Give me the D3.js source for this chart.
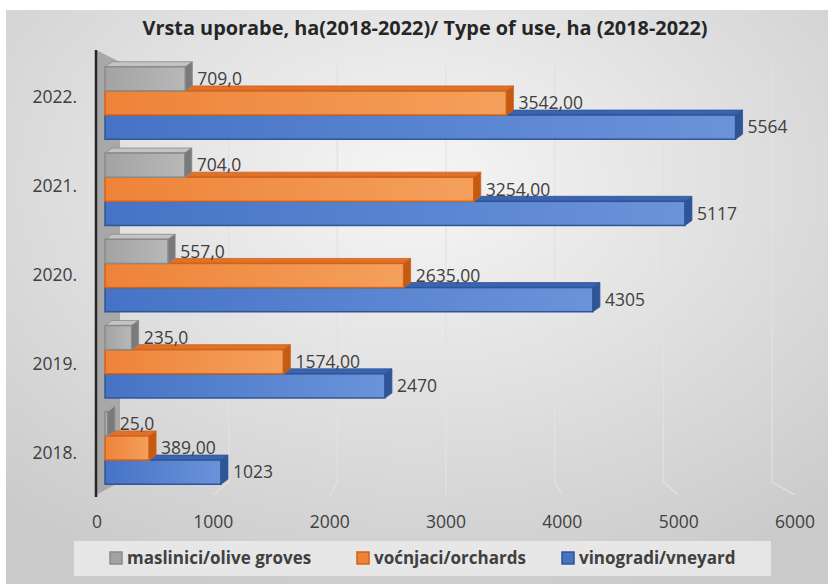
<!DOCTYPE html>
<head>
    <title>Vrsta uporabe</title>
    <meta charset="utf-8">
    <script src="https://d3js.org/d3.v7.min.js"></script>
    <style>
        body { margin: 0; background: white; }
        text { font-family: "Open Sans", "DejaVu Sans", sans-serif; fill: #404040; }
    </style>
</head>
<body>
    <div id="chart"></div>
    <script>
        // data
        var years = ["2022.", "2021.", "2020.", "2019.", "2018."];
        var oliveGroves = [709, 704, 557, 235, 25];
        var orchards = [3542, 3254, 2635, 1574, 389];
        var vineyards = [5564, 5117, 4305, 2470, 1023];
        var seriesNames = ["maslinici/olive groves", "voćnjaci/orchards", "vinogradi/vneyard"];
        var xTicks = [0, 1000, 2000, 3000, 4000, 5000, 6000];

        var svgWidth = 828, svgHeight = 584;

        var svg = d3.select('#chart').append('svg')
            .attr('width', svgWidth)
            .attr('height', svgHeight);

        var defs = svg.append('defs');

        var bg = defs.append('radialGradient').attr('id', 'bg')
            .attr('cx', '50%').attr('cy', '30%').attr('r', '75%');
        bg.append('stop').attr('offset', '0%').attr('stop-color', '#f6f6f6');
        bg.append('stop').attr('offset', '100%').attr('stop-color', '#cbcbcb');

        // colours per series: front gradient, stroke, top, side
        var styles = [
            {from: '#a3a3a3', to: '#b8b8b8', stroke: '#8a8a8a', top: '#c4c4c4', side: '#7a7a7a'},
            {from: '#ee8338', to: '#f4a05c', stroke: '#d0621a', top: '#e0712a', side: '#c55a11'},
            {from: '#4673c6', to: '#6a93d9', stroke: '#2f5597', top: '#3a63b0', side: '#2f5597'}
        ];
        styles.forEach(function(s, i) {
            var g = defs.append('linearGradient').attr('id', 'front' + i)
                .attr('x1', 0).attr('x2', 1).attr('y1', 0).attr('y2', 0);
            g.append('stop').attr('offset', '0%').attr('stop-color', s.from);
            g.append('stop').attr('offset', '100%').attr('stop-color', s.to);
        });

        // background
        svg.append('rect')
            .attr('x', 6).attr('y', 10)
            .attr('width', svgWidth - 6).attr('height', svgHeight - 10)
            .style('fill', 'url(#bg)');

        // title
        svg.append('text')
            .attr('x', 425).attr('y', 35)
            .attr('text-anchor', 'middle')
            .attr('textLength', 565)
            .attr('lengthAdjust', 'spacingAndGlyphs')
            .style('font-size', '19px')
            .style('font-weight', 'bold')
            .style('fill', '#262626')
            .text('Vrsta uporabe, ha(2018-2022)/ Type of use, ha (2018-2022)');

        // scales: front of bars, back wall, front floor edge
        var x = d3.scaleLinear().domain([0, 6000]).range([105, 785]);
        var xBack = d3.scaleLinear().domain([0, 6000]).range([120, 772]);
        var xFloor = d3.scaleLinear().domain([0, 6000]).range([97, 795]);

        var y = d3.scaleBand().domain(years).range([59, 492])
            .paddingInner(0.16).paddingOuter(0.09);
        var yInner = d3.scaleBand().domain([0, 1, 2]).range([0, y.bandwidth()]);
        var yLabel = d3.scaleBand().domain(years).range([52, 497]);

        var wallTop = 62, wallBottom = 482, frontTop = 50, frontBottom = 495;
        var depthX = 7, depthY = -5;

        // gridlines on the back wall and across the floor
        var grid = svg.append('g');
        grid.selectAll('.gridline')
            .data(xTicks.slice(1))
            .enter().append('polyline')
            .classed('gridline', true)
            .attr('points', function(d) {
                return [[xBack(d), wallTop], [xBack(d), wallBottom], [xFloor(d), frontBottom]].join(' ');
            })
            .style('fill', 'none')
            .style('stroke', '#e2e2e2')
            .style('stroke-width', 1.2);

        // side wall
        svg.append('polygon')
            .attr('points', [[96, frontTop], [120, wallTop], [120, wallBottom], [96, frontBottom]].join(' '))
            .style('fill', '#a8a8a8');
        svg.append('line')
            .attr('x1', 96).attr('x2', 96)
            .attr('y1', frontTop).attr('y2', frontBottom + 2)
            .style('stroke', '#262626')
            .style('stroke-width', 2.5);

        // bars
        var series = [oliveGroves, orchards, vineyards];
        var formats = [
            function(v) { return v.toFixed(1).replace('.', ','); },
            function(v) { return v.toFixed(2).replace('.', ','); },
            function(v) { return String(v); }
        ];

        var bars = [];
        years.forEach(function(yr, i) {
            // bottom bar first so the ones above cover its top face
            [2, 1, 0].forEach(function(s) {
                bars.push({year: yr, s: s, value: series[s][i]});
            });
        });

        var barGroups = svg.selectAll('.bar3d')
            .data(bars)
            .enter().append('g')
            .classed('bar3d', true);

        var h = yInner.bandwidth();
        function x0() { return x(0); }
        function y0(d) { return y(d.year) + yInner(d.s); }

        barGroups.append('polygon')
            .attr('points', function(d) {
                var a = x0(), b = x(d.value), t = y0(d);
                return [[a, t], [b, t], [b + depthX, t + depthY], [a + depthX, t + depthY]].join(' ');
            })
            .style('fill', function(d) { return styles[d.s].top; })
            .style('stroke', function(d) { return styles[d.s].stroke; })
            .style('stroke-width', 0.8);

        barGroups.append('rect')
            .attr('x', x0)
            .attr('y', y0)
            .attr('width', function(d) { return x(d.value) - x0(); })
            .attr('height', h)
            .style('fill', function(d) { return 'url(#front' + d.s + ')'; })
            .style('stroke', function(d) { return styles[d.s].stroke; })
            .style('stroke-width', 1.5);

        barGroups.append('polygon')
            .attr('points', function(d) {
                var b = x(d.value), t = y0(d);
                return [[b, t], [b + depthX, t + depthY], [b + depthX, t + depthY + h], [b, t + h]].join(' ');
            })
            .style('fill', function(d) { return styles[d.s].side; })
            .style('stroke', function(d) { return styles[d.s].stroke; })
            .style('stroke-width', 0.8);

        // data labels
        barGroups.append('text')
            .attr('x', function(d) { return x(d.value) + depthX + 5; })
            .attr('y', function(d) { return y0(d) + h / 2; })
            .attr('dy', '0.36em')
            .style('font-size', '17.5px')
            .text(function(d) { return formats[d.s](d.value); });

        // category labels
        svg.selectAll('.cat')
            .data(years)
            .enter().append('text')
            .classed('cat', true)
            .attr('x', 77)
            .attr('y', function(d) { return yLabel(d) + yLabel.bandwidth() / 2; })
            .attr('dy', '0.36em')
            .attr('text-anchor', 'end')
            .style('font-size', '17.5px')
            .text(function(d) { return d; });

        // value axis labels
        svg.selectAll('.tick-label')
            .data(xTicks)
            .enter().append('text')
            .classed('tick-label', true)
            .attr('x', function(d) { return xFloor(d); })
            .attr('y', 522)
            .attr('dy', '0.36em')
            .attr('text-anchor', 'middle')
            .style('font-size', '17.5px')
            .text(function(d) { return d; });

        // legend
        var legend = svg.append('g');
        legend.append('rect')
            .attr('x', 74).attr('y', 541)
            .attr('width', 697).attr('height', 35)
            .style('fill', '#ebebeb')
            .style('opacity', 0.85);

        var legendX = [110, 357, 562];
        var items = legend.selectAll('.legend-item')
            .data(seriesNames)
            .enter().append('g')
            .classed('legend-item', true)
            .attr('transform', function(d, i) { return 'translate(' + legendX[i] + ',558)'; });

        items.append('rect')
            .attr('x', 0).attr('y', -6)
            .attr('width', 12).attr('height', 12)
            .style('fill', function(d, i) { return styles[i].from; })
            .style('stroke', function(d, i) { return styles[i].stroke; })
            .style('stroke-width', 1.5);

        items.append('text')
            .attr('x', 17)
            .attr('dy', '0.36em')
            .style('font-size', '17px')
            .style('font-weight', 'bold')
            .text(function(d) { return d; });
    </script>
</body>
</html>
